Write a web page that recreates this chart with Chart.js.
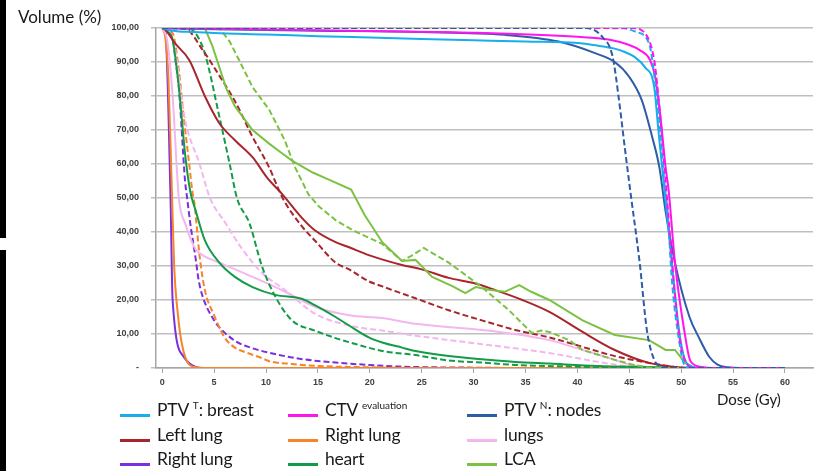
<!DOCTYPE html>
<html>
<head>
<meta charset="utf-8">
<script src="https://cdn.jsdelivr.net/npm/chart.js@4.4.1/dist/chart.umd.min.js"></script>
<style>
  html, body { margin: 0; padding: 0; background: #fff; }
  #wrap { position: relative; width: 819px; height: 471px; overflow: hidden; font-family: Lato, 'Open Sans', sans-serif; }
  #dvh { position: absolute; left: 0; top: 0; }
  .strip { position: absolute; left: 0; width: 6px; background: #000; }
  .title { position: absolute; color: #1a1a1a; white-space: nowrap; }
  .leg { position: absolute; font-size: 17.5px; letter-spacing: -0.2px; color: #1a1a1a; white-space: nowrap; line-height: 20px; }
  .leg sup { font-size: 10px; vertical-align: 7px; line-height: 0; letter-spacing: 0; }
  .swatch { position: absolute; width: 30px; height: 3px; }
</style>
</head>
<body>
<div id="wrap">
  <canvas id="dvh" width="819" height="471"></canvas>
  <div class="strip" style="top:0;height:238px"></div>
  <div class="strip" style="top:250px;height:221px"></div>
  <div class="title" style="left:18px;top:6px;font-size:17px">Volume (%)</div>
  <div class="title" style="left:717px;top:390px;font-size:15px">Dose (Gy)</div>
  <div id="legend"></div>
</div>
<script>
// Dose-volume histograms, [dose (Gy), volume (%)]; plan A = solid, plan B = dashed
const ptvBreastA = [[0,100],[1,99.2],[3,98.8],[5,98.5],[10,98.1],[15,97.6],[20,97.2],[25,96.8],[30,96.4],[35,96],[40,95.6],[42,94.8],[43.5,94],[44.5,93],[45.5,91.5],[46.5,88.5],[47.4,82.6],[47.8,70],[48.3,55],[48.8,40],[49.3,25],[49.8,11],[50.3,3],[51,0.5],[52,0],[60,0]];
const ptvBreastB = [[0,100],[20,100],[40,100],[44.5,99.9],[45.6,98.9],[46.9,95.5],[47.5,83.8],[48,69],[48.4,54],[48.7,45.6],[49.1,26],[49.8,8],[50.3,1],[51,0],[60,0]];
const ctvA = [[0,100],[5,99.8],[20,99.1],[30,98.6],[40,97.4],[43,96.6],[45,95],[46,93.5],[47,90.6],[47.5,85.6],[48,74],[48.5,59],[48.8,52],[49.4,31],[50.3,11],[50.9,2],[52,0.3],[53,0],[60,0]];
const ctvB = [[0,100],[20,100],[45.3,100],[46.5,98.5],[47.4,90.6],[47.7,83],[48.1,70],[48.5,55],[49,36],[49.5,18],[50,6],[50.5,1.5],[51.2,0],[60,0]];
const ptvNodesA = [[0,100],[5,99.6],[15,99.2],[25,98.8],[33,98],[38.2,96],[41.7,92.6],[43.6,90],[45,85.6],[46.2,78.8],[47.2,68],[47.9,59],[48.5,46],[49.4,31],[50.8,15],[51.7,9],[52.7,3.3],[53.5,1],[54.5,0.2],[56,0],[60,0]];
const ptvNodesB = [[0,100],[20,100],[40.8,100],[42.4,97.4],[43.4,91.5],[44,79],[44.6,64],[45.1,52],[46,31],[46.7,11],[47.4,2.4],[48,0.5],[49,0],[60,0]];
const leftLungA = [[0,100],[0.3,99.5],[1.2,95.6],[2.6,90.6],[4.1,80],[5.5,72],[7,67],[8.7,62],[10.1,56],[11.6,51],[13.5,44],[14.7,40.5],[16.7,37],[18,35.5],[19.9,33.2],[23.1,30.3],[25,29],[27.6,26.5],[30,25],[32,23],[34.7,20],[37.3,16.5],[40.5,10.6],[43.6,5.3],[46.9,1.5],[49.4,0.3],[51,0],[60,0]];
const leftLungB = [[0,100],[2.2,99.8],[3.9,93.5],[5.5,86],[7,78.5],[8.7,68],[10.3,59],[11.6,50],[13.5,41.5],[14.7,37.5],[16.7,31],[18,29],[19.9,25.5],[21.2,24],[24.4,20.5],[27.6,17],[30.8,14],[34,11.2],[37.3,9],[40.5,6.2],[43.6,3.5],[46.9,1.5],[49.4,0.3],[51,0],[60,0]];
const rightLungOrA = [[0,100],[0.3,97],[0.6,85],[0.9,55],[1.15,30],[1.5,16],[1.9,7],[2.6,1],[3.5,0.1],[4,0],[60,0]];
const rightLungOrB = [[0,100],[1,98.5],[1.6,87.6],[2.1,73],[2.6,60],[2.9,52],[3.1,48.5],[3.6,33],[4.1,23],[5,15.5],[6,9],[7,6],[7.7,5],[9.6,2.9],[10.3,2],[12.5,1.2],[15,0.6],[20,0.2],[25,0],[60,0]];
const lungsA = [[0,100],[0.5,96],[1,80],[1.6,50],[2.2,42.6],[3.2,35],[4,33],[5.5,31],[8.7,26.8],[11.8,22.5],[14.7,18],[18,15.5],[21.2,14.7],[24.4,13],[30.8,11.2],[34,10],[37.3,8.2],[40.5,5.3],[43.6,2.4],[45,1],[47,0.3],[49,0],[60,0]];
const lungsB = [[0,100],[1,97],[2.2,73],[3.6,60],[4.6,50],[6.1,42.6],[7.7,35],[9.6,28],[11.8,23],[14.7,16],[18,12.5],[21.2,11],[24.4,9.5],[30.8,7],[37.3,4.4],[42,1.8],[45,0.5],[48,0],[60,0]];
const rightLungPuA = [[0,100],[0.3,99],[0.8,50],[1,20],[2.1,3.2],[3.2,0.3],[4,0],[60,0]];
const rightLungPuB = [[0,100],[1,97],[1.3,90],[1.6,82.6],[2.2,55],[2.4,50],[2.7,42.6],[3.2,32.6],[3.5,26],[3.9,21],[5,14],[5.5,12],[7,8],[8.5,6],[10.3,4.5],[13.5,2.6],[16.7,1.6],[19.9,0.9],[23.1,0.4],[30,0.1],[35,0],[60,0]];
const heartA = [[0,100],[0.5,99],[1,96.5],[1.6,82.6],[2.2,63],[2.7,52],[3.2,46.5],[4.1,37.6],[5.5,31],[7,26.8],[8.7,23.8],[10.9,21.5],[13.5,20.3],[14.7,18.5],[16.7,15],[18,12.5],[19.9,9],[21.2,7.5],[23.1,6],[24.4,5],[27.6,3.5],[30.8,2.6],[34,1.8],[37.3,1.3],[42,0.6],[48,0.2],[50,0],[60,0]];
const heartB = [[0,100],[2.5,99.8],[3.2,98.5],[4.1,92.6],[5.5,74],[6.5,60],[7.2,50],[8.4,42.6],[9.6,30],[10.9,21],[12.5,14],[14.7,11],[16.7,8.8],[18,7.6],[21.2,5],[24.4,3.8],[27.6,2.2],[30.8,1.6],[34,0.9],[40,0.4],[45,0],[60,0]];
const lcaA = [[0,100],[4.1,100],[4.8,95],[5.5,88.5],[6.2,82],[7,77],[8.7,70],[10.3,66],[11.6,63],[12.5,61],[14.5,57.5],[16,55.5],[18.2,52.5],[19.5,45],[21.2,37],[23.1,31.5],[24.4,31.8],[26,26.8],[28,24],[29.2,22],[30.2,23.8],[31.5,23],[33,22.4],[34.4,24.4],[35.5,22.5],[37.3,20],[40.5,14],[43.6,9.7],[46.9,8.2],[48.5,5.3],[49.4,5.3],[50.4,1.5],[51,0.3],[52,0],[60,0]];
const lcaB = [[0,100],[5.5,100],[6.5,96],[7.4,90.6],[8.7,82.6],[10.3,76],[11.8,67],[12.8,59],[14.1,51],[15.1,47.5],[16.7,43.5],[18.3,40.6],[21.2,36.5],[23.1,31.5],[24,33],[25.2,35.3],[27.6,31],[30.8,23.8],[33.4,17],[35.6,10.3],[36.5,11],[37.3,10.6],[39.2,8.2],[40.5,5.3],[43.6,2.4],[45.3,1],[47,0],[60,0]];

const xTicks = [0, 5, 10, 15, 20, 25, 30, 35, 40, 45, 50, 55, 60];
const yTicks = [0, 10, 20, 30, 40, 50, 60, 70, 80, 90, 100];

const colors = {
    ptvBreast: '#19AEEB',
    ctv: '#FF14EE',
    ptvNodes: '#2E5CA8',
    leftLung: '#A8262B',
    rightLungOr: '#F5842A',
    lungs: '#F4B6EE',
    rightLungPu: '#7A2FE0',
    heart: '#139B48',
    lca: '#7CC242'
};

// legend laid out in 3 columns like the original figure
const legendItems = [
    { html: 'PTV <sup>T</sup>: breast', color: colors.ptvBreast, col: 0, row: 0 },
    { html: 'CTV <sup>evaluation</sup>', color: colors.ctv, col: 1, row: 0 },
    { html: 'PTV <sup>N</sup>: nodes', color: colors.ptvNodes, col: 2, row: 0 },
    { html: 'Left lung', color: colors.leftLung, col: 0, row: 1 },
    { html: 'Right lung', color: colors.rightLungOr, col: 1, row: 1 },
    { html: 'lungs', color: colors.lungs, col: 2, row: 1 },
    { html: 'Right lung', color: colors.rightLungPu, col: 0, row: 2 },
    { html: 'heart', color: colors.heart, col: 1, row: 2 },
    { html: 'LCA', color: colors.lca, col: 2, row: 2 }
];

const legendEl = document.getElementById('legend');
const colX = [120, 288, 467];
const rowY = [400, 425, 449];
legendItems.forEach(item => {
    const sw = document.createElement('div');
    sw.className = 'swatch';
    sw.style.background = item.color;
    sw.style.left = colX[item.col] + 'px';
    sw.style.top = (rowY[item.row] + 14) + 'px';
    legendEl.appendChild(sw);
    const t = document.createElement('div');
    t.className = 'leg';
    t.innerHTML = item.html;
    t.style.left = (colX[item.col] + 37) + 'px';
    t.style.top = rowY[item.row] + 'px';
    legendEl.appendChild(t);
});

const toPoints = arr => arr.map(([x, y]) => ({ x, y }));
const mk = (data, color, dashed, straight) => ({
    data: toPoints(data),
    borderColor: color,
    borderWidth: 2,
    borderDash: dashed ? [6, 3] : [],
    pointRadius: 0,
    fill: false,
    cubicInterpolationMode: straight ? 'default' : 'monotone',
    tension: 0
});

new Chart(document.getElementById('dvh').getContext('2d'), {
    type: 'line',
    data: {
        datasets: [
            mk(ptvNodesB, colors.ptvNodes, true),
            mk(ctvB, colors.ctv, true),
            mk(ptvBreastB, colors.ptvBreast, true),
            mk(ctvA, colors.ctv, false),
            mk(ptvBreastA, colors.ptvBreast, false),
            mk(ptvNodesA, colors.ptvNodes, false),
            mk(lcaA, colors.lca, false, true),
            mk(lcaB, colors.lca, true, true),
            mk(leftLungA, colors.leftLung, false),
            mk(leftLungB, colors.leftLung, true),
            mk(heartA, colors.heart, false),
            mk(heartB, colors.heart, true),
            mk(lungsA, colors.lungs, false),
            mk(lungsB, colors.lungs, true),
            mk(rightLungOrA, colors.rightLungOr, false),
            mk(rightLungOrB, colors.rightLungOr, true),
            mk(rightLungPuA, colors.rightLungPu, false),
            mk(rightLungPuB, colors.rightLungPu, true)
        ]
    },
    options: {
        responsive: false,
        animation: false,
        layout: { padding: { left: 0, top: 28, right: 6, bottom: 0 } },
        plugins: { legend: { display: false }, tooltip: { enabled: false } },
        scales: {
            x: {
                type: 'linear',
                min: -0.6,
                max: 62.7,
                afterBuildTicks: (scale) => { scale.ticks = xTicks.map(v => ({ value: v })); },
                afterFit: (scale) => { scale.height = 103; },
                grid: { drawOnChartArea: false, drawTicks: true, tickLength: 5, color: '#A6A6A6', lineWidth: 1 },
                border: { color: '#A6A6A6', width: 1.5 },
                ticks: {
                    autoSkip: false, maxRotation: 0, padding: 4, color: '#404040',
                    font: { family: 'Liberation Sans', size: 9, weight: 'bold' }
                }
            },
            y: {
                min: 0,
                max: 100,
                afterBuildTicks: (scale) => { scale.ticks = yTicks.map(v => ({ value: v })); },
                afterFit: (scale) => { scale.width = 156; },
                grid: { color: '#BFBFBF', lineWidth: 1.5, tickLength: 5 },
                border: { color: '#A6A6A6', width: 1.5 },
                ticks: {
                    padding: 12, color: '#404040',
                    font: { family: 'Liberation Sans', size: 9, weight: 'bold' },
                    callback: (v) => v === 0 ? '-' : v.toFixed(2).replace('.', ',')
                }
            }
        }
    }
});
</script>
</body>
</html>
